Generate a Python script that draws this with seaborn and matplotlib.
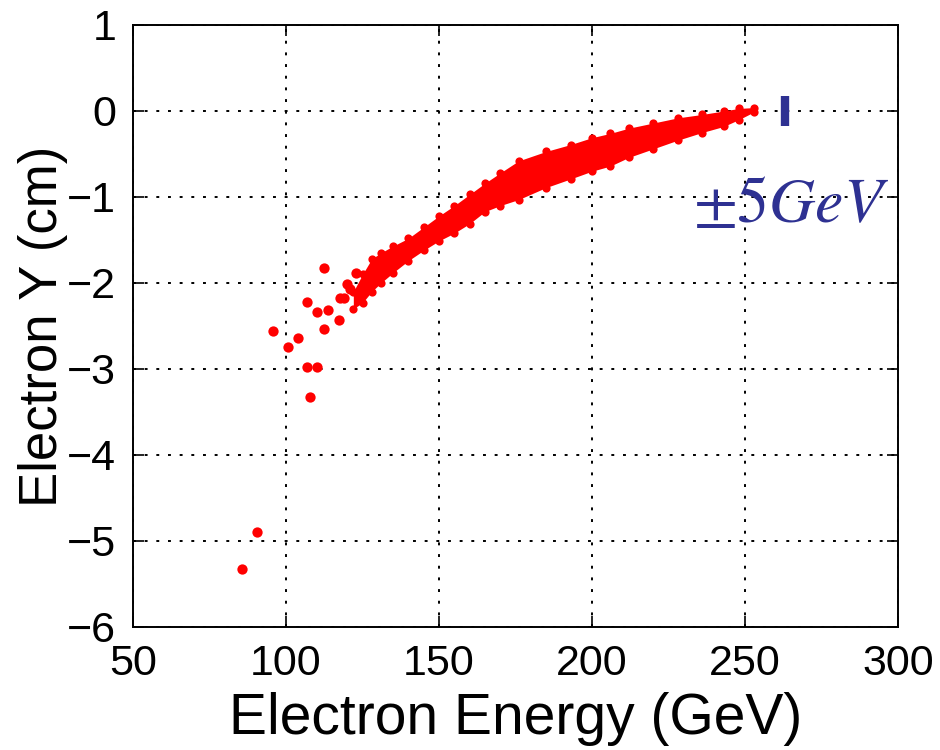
import matplotlib
matplotlib.use("Agg")
import matplotlib.pyplot as plt
import seaborn as sns
import pandas as pd

# ==========================================
# Data
# ==========================================
# isolated low-energy electrons
outlier_energy = [112.4, 122.9, 119.9, 120.9, 117.5, 119.0, 106.9, 110.1, 113.7, 117.3,
                  112.4, 95.8, 103.9, 100.6, 106.9, 110.1, 107.8, 90.5, 85.6]
outlier_y = [-1.83, -1.88, -2.01, -2.07, -2.17, -2.17, -2.22, -2.34, -2.31, -2.43,
             -2.53, -2.56, -2.64, -2.74, -2.98, -2.98, -3.33, -4.90, -5.33]

# dense band of electrons: upper and lower envelope
band_energy = [122, 125, 128, 131, 135, 140, 145, 150, 155, 160, 165, 170,
               176, 185, 193, 200, 206, 212, 220, 228, 236, 243, 248, 253]
band_upper = [-2.10, -1.90, -1.72, -1.65, -1.57, -1.48, -1.35, -1.22, -1.10, -0.97, -0.84, -0.72,
              -0.58, -0.47, -0.39, -0.31, -0.26, -0.20, -0.14, -0.08, -0.04, 0.00, 0.03, 0.04]
band_lower = [-2.30, -2.23, -2.10, -2.00, -1.88, -1.74, -1.62, -1.51, -1.42, -1.31, -1.17, -1.10,
              -1.03, -0.89, -0.79, -0.70, -0.64, -0.54, -0.44, -0.34, -0.25, -0.18, -0.10, -0.01]

# +-5 GeV resolution marker
res_x = [263]
res_lo = [-0.18]
res_hi = [0.17]

x_ticks = [50, 100, 150, 200, 250, 300]
y_ticks = [-6, -5, -4, -3, -2, -1, 0, 1]

# ==========================================
# Style
# ==========================================
sns.set_theme(style="white")
plt.rcParams['font.family'] = ['Liberation Sans', 'DejaVu Sans']
plt.rcParams['mathtext.fontset'] = 'stix'
plt.rcParams['axes.unicode_minus'] = True

RED = '#ff0000'
BLUE = '#2e3192'

fig = plt.figure(figsize=(9.4, 7.5), dpi=100)
ax = fig.add_axes([133 / 940, 1 - 627 / 750, (898 - 133) / 940, (627 - 25) / 750])

# band body + rough edges
ax.fill_between(band_energy, band_lower, band_upper, color=RED, lw=0, zorder=3)
edges = pd.DataFrame({
    'energy': band_energy + band_energy,
    'y': band_upper + band_lower,
})
sns.scatterplot(data=edges, x='energy', y='y', ax=ax, color=RED, s=35,
                linewidth=0, marker='o', zorder=3)

# isolated points
df_out = pd.DataFrame({'energy': outlier_energy, 'y': outlier_y})
sns.scatterplot(data=df_out, x='energy', y='y', ax=ax, color=RED, s=55,
                linewidth=0, marker='o', zorder=3)

# resolution bar and label
ax.vlines(res_x, res_lo, res_hi, color=BLUE, lw=6, zorder=4)
ax.text(233, -1.29, r'$\pm5GeV$', fontsize=46, color=BLUE, zorder=5)

# axes
ax.set_xlim(50, 300)
ax.set_ylim(-6, 1)
ax.set_xticks(x_ticks)
ax.set_yticks(y_ticks)
ax.grid(True, color='black', linestyle=(0, (1.5, 4.5)), linewidth=1.4)
ax.tick_params(direction='in', length=8, width=1.2, labelsize=31, pad=12,
               colors='black', top=True, right=True, bottom=True, left=True,
               labeltop=False, labelright=False)
for sp in ax.spines.values():
    sp.set_color('black')
    sp.set_linewidth(1.4)

ax.set_xlabel('Electron Energy (GeV)', fontsize=41, labelpad=6, color='black')
ax.set_ylabel('Electron Y (cm)', fontsize=38, color='black')
ax.yaxis.set_label_coords(-0.085, 0.5)

plt.savefig('out.png', dpi=100, facecolor='white')
